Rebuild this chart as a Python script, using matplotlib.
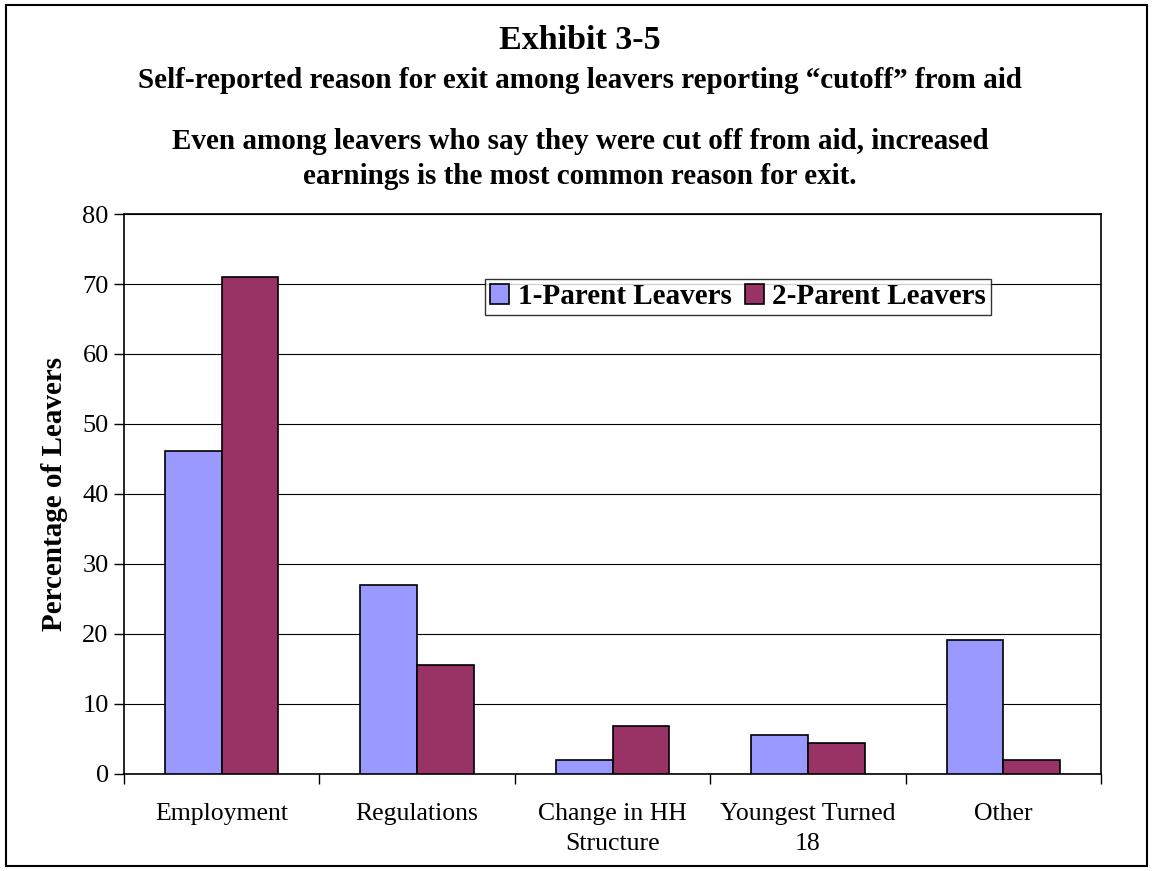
import numpy as np
import matplotlib.pyplot as plt
from matplotlib.patches import Rectangle

plt.rcParams['font.family'] = ['Liberation Serif', 'DejaVu Serif']

categories = ['Employment', 'Regulations', 'Change in HH\nStructure', 'Youngest Turned\n18', 'Other']
one_parent = [46.2, 27.0, 2.0, 5.5, 19.2]
two_parent = [71.0, 15.5, 6.9, 4.4, 2.0]
series_names = ['1-Parent Leavers', '2-Parent Leavers']

fig = plt.figure(figsize=(11.53, 8.71), dpi=100)
ax = fig.add_axes([0.1075, 0.1114, 0.8475, 0.6429])

x = np.arange(len(categories))
w = 0.29
ax.bar(x - w / 2, one_parent, w, color='#9999FF', edgecolor='black', linewidth=1.2,
       label=series_names[0], zorder=3)
ax.bar(x + w / 2, two_parent, w, color='#993366', edgecolor='black', linewidth=1.2,
       label=series_names[1], zorder=3)

ax.set_xlim(-0.5, len(categories) - 0.5)
ax.set_ylim(0, 80)
ax.set_yticks(range(0, 81, 10))
ax.tick_params(axis='y', labelsize=19, direction='out', length=7, width=1, pad=4)
ax.yaxis.grid(True, color='black', linewidth=0.8)
ax.set_axisbelow(True)

ax.set_xticks(x)
ax.set_xticklabels(categories, fontsize=18.5, linespacing=1.45)
ax.tick_params(axis='x', which='major', length=0, pad=21)
ax.set_xticks(np.arange(-0.5, len(categories), 1), minor=True)
ax.tick_params(axis='x', which='minor', length=7, width=1, direction='out')

for s in ax.spines.values():
    s.set_linewidth(1.2)
    s.set_color('black')

ax.set_ylabel('Percentage of Leavers', fontsize=21, fontweight='bold', labelpad=10)

leg = ax.legend(loc='upper left', bbox_to_anchor=(0.370, 0.884), ncol=2, frameon=True,
                fancybox=False, edgecolor='black', prop={'weight': 'bold', 'size': 21},
                handlelength=0.65, handleheight=0.65, handletextpad=0.3, columnspacing=0.45,
                borderpad=0.15, borderaxespad=0)
leg.get_frame().set_linewidth(1)

fig.text(0.503, 0.954, 'Exhibit 3-5', ha='center', va='center', fontsize=24.5, fontweight='bold')
fig.text(0.503, 0.908, 'Self-reported reason for exit among leavers reporting \u201ccutoff\u201d from aid',
         ha='center', va='center', fontsize=21, fontweight='bold')
fig.text(0.503, 0.837, 'Even among leavers who say they were cut off from aid, increased',
         ha='center', va='center', fontsize=21, fontweight='bold')
fig.text(0.503, 0.797, 'earnings is the most common reason for exit.',
         ha='center', va='center', fontsize=21, fontweight='bold')

fig.patches.append(Rectangle((0.005, 0.006), 0.99, 0.988, transform=fig.transFigure,
                             fill=False, edgecolor='black', linewidth=1.5))

fig.savefig('out.png', dpi=100)
